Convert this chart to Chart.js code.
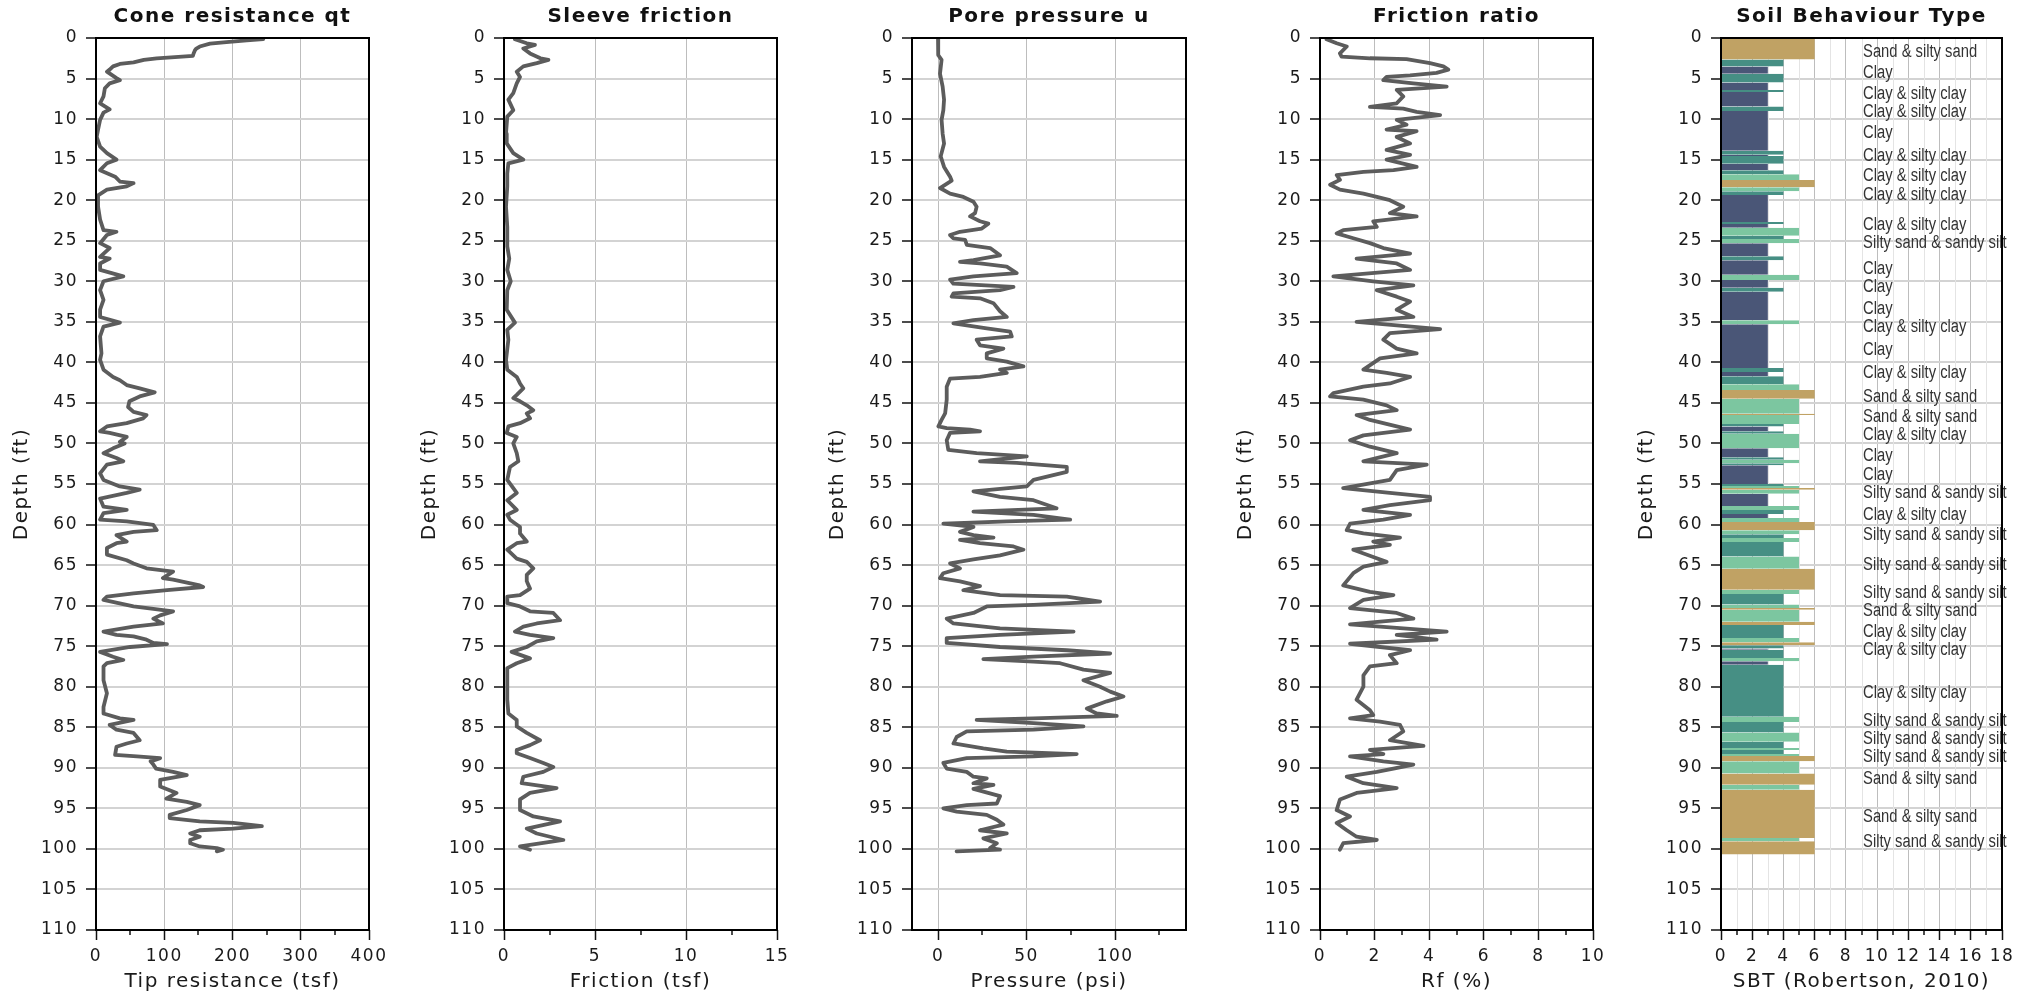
<!DOCTYPE html>
<html>
<head>
<meta charset="utf-8">
<script src="https://cdn.jsdelivr.net/npm/chart.js@4.4.1/dist/chart.umd.min.js"></script>
<style>
  html, body { margin: 0; padding: 0; background: #fff; }
  #wrap { position: relative; width: 2031px; height: 997px; overflow: hidden; }
  #wrap canvas { position: absolute; top: 0; }
</style>
</head>
<body>
<div id="wrap"></div>
<script>
// ---- Cone resistance qt (tsf) ----
const qtDepth = [
  0.15, 0.3, 0.5, 0.7, 1.05, 1.3, 1.5, 1.9, 2.2, 2.5,
  2.7, 3.0, 3.2, 3.5, 3.9, 4.15, 4.95, 5.2, 5.6, 6.2,
  7.2, 8.05, 8.8, 9.2, 10.1, 11.3, 12.2, 13.4, 14.2, 15.0,
  15.45, 16.3, 17.1, 17.7, 17.9, 18.3, 18.7, 19.4, 20.8, 22.4,
  23.7, 23.9, 24.3, 25.3, 25.9, 27.0, 27.2, 27.8, 28.6, 29.4,
  30.0, 31.1, 32.3, 33.5, 34.4, 35.1, 35.6, 36.8, 38.9, 39.7,
  40.9, 41.8, 42.2, 42.8, 43.2, 43.7, 44.2, 44.8, 45.5, 46.1,
  46.5, 46.9, 47.5, 47.9, 48.5, 48.7, 49.2, 49.8, 50.0, 50.6,
  51.2, 51.8, 52.2, 52.6, 53.7, 54.5, 55.3, 55.7, 56.1, 56.8,
  57.8, 58.2, 58.6, 59.4, 59.6, 60.05, 60.7, 60.9, 61.3, 62.1,
  62.3, 62.9, 63.7, 64.4, 64.8, 65.4, 65.8, 66.6, 66.8, 67.5,
  67.7, 68.1, 68.5, 68.9, 69.3, 70.1, 70.7, 71.2, 71.6, 72.2,
  72.6, 73.2, 73.6, 73.8, 74.2, 74.6, 74.75, 75.1, 75.7, 76.3,
  76.7, 77.1, 77.5, 79.2, 80.8, 82.5, 83.3, 83.9, 84.1, 84.7,
  85.3, 85.7, 86.6, 87.0, 87.4, 88.4, 88.6, 88.8, 89.2, 89.6,
  90.1, 90.5, 90.9, 91.5, 92.3, 93.1, 93.8, 94.2, 94.6, 95.2,
  95.8, 96.2, 96.6, 96.8, 97.2, 97.5, 97.7, 98.1, 98.5, 98.9,
  99.3, 99.7, 99.9, 100.1, 100.3
];
const qtValue = [
  245, 221, 191, 167, 152, 147, 145, 143, 142, 89,
  70, 55, 35, 25, 20, 16, 30, 35, 20, 13,
  11, 6, 20, 11, 6, 3, 1, 6, 16, 30,
  16, 6, 28, 35, 55, 45, 16, 3, 3, 6,
  11, 30, 16, 6, 20, 6, 20, 6, 6, 40,
  11, 6, 11, 6, 6, 35, 11, 6, 8, 6,
  11, 25, 35, 45, 64, 86, 64, 49, 47, 55,
  74, 69, 45, 16, 6, 20, 45, 35, 42, 25,
  11, 30, 40, 16, 6, 11, 35, 64, 45, 6,
  11, 45, 11, 6, 45, 84, 89, 55, 30, 45,
  30, 16, 16, 45, 55, 74, 113, 98, 113, 152,
  157, 104, 55, 16, 11, 55, 113, 94, 84, 98,
  55, 11, 30, 55, 74, 84, 104, 50, 6, 25,
  40, 16, 11, 11, 16, 11, 11, 35, 55, 20,
  30, 55, 64, 45, 30, 28, 60, 94, 80, 84,
  88, 113, 133, 94, 94, 118, 103, 133, 152, 133,
  108, 108, 152, 201, 243, 201, 152, 138, 152, 138,
  138, 152, 177, 186, 177
];

// ---- Sleeve friction fs (tsf) ----
const fsDepth = [
  0.15, 0.65, 0.85, 1.3, 1.9, 2.5, 2.7, 3.1, 3.5, 4.15,
  4.8, 5.6, 6.8, 7.6, 8.9, 9.7, 11.8, 13.0, 14.2, 15.0,
  15.45, 16.7, 18.3, 20.8, 23.3, 25.7, 27.2, 28.6, 30.0, 31.1,
  33.5, 35.1, 36.0, 37.2, 39.7, 40.9, 41.8, 42.6, 43.2, 44.0,
  44.4, 44.8, 45.3, 45.9, 46.3, 46.9, 47.5, 47.9, 48.7, 49.2,
  50.0, 51.2, 52.2, 52.9, 54.5, 56.1, 57.0, 58.2, 58.8, 59.4,
  60.3, 61.1, 62.1, 62.3, 63.1, 64.2, 64.6, 65.4, 66.2, 67.0,
  67.9, 68.7, 68.9, 69.7, 70.1, 70.7, 70.9, 71.8, 72.2, 72.6,
  73.2, 73.6, 74.0, 74.4, 75.1, 75.7, 76.5, 77.1, 77.7, 79.2,
  81.6, 83.3, 84.1, 84.9, 85.7, 86.6, 87.2, 87.8, 88.2, 88.8,
  89.4, 89.9, 90.5, 91.1, 91.9, 92.5, 93.1, 93.9, 95.2, 96.0,
  96.6, 97.5, 98.1, 98.9, 99.7, 100.1
];
const fsValue = [
  0.6, 1.25, 1.7, 1.06, 1.43, 2.0, 2.44, 1.8, 1.06, 0.7,
  0.88, 0.7, 0.51, 0.24, 0.51, 0.18, 0.11, 0.15, 0.51, 1.06,
  0.24, 0.18, 0.18, 0.11, 0.18, 0.18, 0.29, 0.18, 0.37, 0.18,
  0.15, 0.6, 0.18, 0.24, 0.11, 0.18, 0.7, 0.88, 1.06, 0.7,
  0.51, 0.88, 1.25, 1.61, 1.25, 1.43, 0.88, 0.24, 0.15, 0.7,
  0.51, 0.7, 0.79, 0.33, 0.18, 0.7, 0.18, 0.7, 0.18, 0.33,
  0.88, 0.88, 1.25, 0.7, 0.18, 0.7, 1.25, 1.61, 1.25, 1.25,
  1.43, 0.88, 0.18, 0.18, 0.88, 1.43, 2.71, 3.08, 1.8, 1.06,
  0.6, 1.43, 2.71, 1.8, 1.25, 0.42, 1.43, 0.7, 0.18, 0.18,
  0.18, 0.24, 0.7, 0.7, 1.25, 1.98, 1.43, 0.7, 0.7, 1.43,
  2.16, 2.71, 2.16, 1.06, 0.97, 2.89, 1.43, 0.88, 0.88, 1.61,
  3.08, 1.25, 1.8, 3.26, 0.88, 1.43
];

// ---- Pore pressure u (psi) ----
const uDepth = [
  0.15, 1.5, 2.1, 2.7, 4.4, 6.0, 7.6, 8.9, 10.1, 11.8,
  13.0, 14.6, 15.9, 17.1, 17.6, 18.5, 19.2, 19.6, 20.2, 20.8,
  21.6, 22.0, 22.6, 22.9, 23.5, 23.9, 24.3, 24.7, 24.9, 25.5,
  25.9, 26.8, 27.4, 27.6, 27.8, 28.2, 29.0, 29.4, 29.8, 30.3,
  30.7, 31.1, 31.5, 31.9, 32.1, 32.7, 33.7, 34.4, 34.8, 35.2,
  35.8, 36.2, 36.8, 37.2, 37.9, 38.3, 38.9, 39.5, 39.9, 40.5,
  40.9, 41.3, 41.8, 42.0, 43.0, 44.6, 46.3, 47.1, 47.9, 48.1,
  48.3, 48.5, 48.7, 49.6, 50.8, 51.2, 51.6, 52.2, 52.4, 52.9,
  53.5, 54.5, 55.3, 55.9, 56.6, 57.0, 58.0, 58.4, 58.8, 59.4,
  59.6, 59.9, 60.3, 60.9, 61.3, 61.6, 61.9, 62.3, 62.7, 63.1,
  63.8, 64.3, 64.8, 65.4, 66.0, 66.6, 67.0, 67.6, 68.1, 68.7,
  68.9, 69.5, 69.9, 70.1, 70.9, 71.6, 72.2, 72.8, 73.2, 73.6,
  74.0, 74.6, 75.1, 75.5, 75.9, 76.3, 76.6, 76.9, 77.1, 77.9,
  78.3, 79.2, 80.0, 80.6, 81.2, 81.8, 82.7, 83.3, 83.6, 83.9,
  84.1, 84.5, 84.9, 85.3, 85.5, 86.2, 87.0, 87.6, 88.0, 88.3,
  88.6, 88.8, 89.4, 90.1, 90.5, 91.1, 91.3, 91.9, 92.1, 92.6,
  93.5, 94.4, 94.6, 95.0, 95.4, 95.8, 96.4, 97.0, 97.7, 98.1,
  98.7, 99.3, 99.9, 100.1, 100.3
];
const uValue = [
  0, 0.2, 0, 2, 1.1, 2.6, 3.4, 3, 2, 2.6,
  3.4, 1.5, 3.4, 6.8, 7.7, 1.1, 6.8, 14.3, 20, 21.8,
  20.9, 18.1, 23.7, 28.4, 24.7, 12.4, 6.8, 8.7, 15.3, 16.2,
  29.4, 35, 20, 12.4, 23.7, 38.8, 44.4, 20, 6.8, 8.7,
  42.6, 35, 8.7, 7.7, 23.7, 31.3, 35, 38.8, 20, 8.7,
  27.5, 40.7, 41.6, 21.8, 23.7, 36.9, 27.5, 27.5, 38.8, 48.2,
  35, 38.8, 23.7, 6.8, 4.9, 4.9, 4, 2, 0.2, 4.9,
  18.1, 23.7, 6.8, 4.9, 5.8, 21.8, 50.1, 23.7, 44.4, 72.7,
  72.7, 53.9, 50.1, 20, 35, 53.9, 66.9, 20, 53.9, 74.6,
  38.8, 3, 20, 12.4, 20, 31.3, 12.4, 23.7, 42.6, 48.2,
  35, 20, 6.8, 12.4, 3, 1.1, 12.4, 23.7, 14.3, 35,
  72.7, 91.5, 53.9, 27.5, 20, 4.9, 8.7, 35, 76.5, 35,
  4.9, 4.9, 35, 72.7, 97.2, 53.9, 25.6, 53.9, 68.9, 82.1,
  97.2, 82.1, 91.5, 97.2, 104.7, 95.3, 84, 89.6, 100.9, 53.9,
  21.8, 53.9, 82.1, 53.9, 16.2, 10.5, 8.7, 25.6, 38.8, 78.3,
  53.9, 16.2, 3, 4.9, 16.2, 20, 27.5, 20, 31.3, 20,
  35, 33.2, 16.2, 3, 10.5, 27.5, 33.2, 36.9, 23.7, 38.8,
  25.6, 33.2, 29.4, 35, 10.5
];

// ---- Friction ratio Rf (%) ----
const rfDepth = [
  0.15, 0.65, 1.05, 1.9, 2.3, 2.5, 2.6, 3.1, 3.5, 3.9,
  4.3, 4.6, 4.8, 5.2, 5.6, 6.0, 6.4, 7.2, 8.05, 8.5,
  8.7, 9.1, 9.5, 10.1, 10.7, 11.3, 11.5, 12.2, 13.0, 13.8,
  14.4, 15.0, 15.9, 16.3, 16.5, 16.9, 17.5, 18.1, 18.7, 19.2,
  19.6, 20.0, 20.8, 21.6, 22.0, 22.6, 23.3, 23.7, 24.1, 24.7,
  25.3, 25.9, 26.6, 27.2, 27.8, 28.6, 29.4, 30.0, 30.5, 31.1,
  31.9, 32.5, 33.5, 34.4, 35.0, 35.9, 36.4, 37.2, 38.3, 38.9,
  39.5, 40.9, 41.3, 41.8, 42.6, 43.0, 43.8, 44.2, 44.6, 45.3,
  45.9, 46.5, 47.1, 47.5, 48.3, 49.0, 49.6, 50.4, 51.2, 52.2,
  52.6, 53.3, 54.5, 55.5, 56.1, 56.6, 57.0, 57.6, 58.2, 58.8,
  59.4, 59.9, 60.7, 61.1, 61.6, 62.1, 62.5, 63.1, 64.0, 64.6,
  65.2, 66.0, 67.5, 68.3, 68.7, 69.3, 70.3, 70.9, 71.6, 72.3,
  73.2, 73.6, 74.2, 74.7, 75.5, 76.1, 77.1, 77.5, 78.6, 80.0,
  81.6, 82.9, 83.5, 83.9, 84.3, 84.7, 85.5, 86.6, 87.3, 87.8,
  88.3, 88.6, 89.2, 89.6, 90.1, 90.5, 91.1, 91.9, 92.5, 93.1,
  93.9, 95.2, 96.0, 96.8, 97.7, 98.5, 98.9, 99.3, 100.1
];
const rfValue = [
  0.24, 0.61, 0.98, 0.73, 0.79, 1.83, 3.17, 4.03, 4.52, 4.7,
  4.27, 3.3, 2.44, 2.32, 3.42, 4.64, 2.81, 3.05, 2.81, 1.83,
  3.05, 3.54, 4.4, 2.81, 3.17, 2.44, 3.54, 2.81, 3.3, 2.44,
  3.3, 2.44, 3.54, 2.69, 1.59, 0.61, 0.73, 0.37, 0.73, 1.59,
  2.08, 2.56, 3.05, 2.56, 3.54, 1.95, 2.08, 0.85, 0.61, 1.22,
  1.83, 2.32, 3.3, 1.34, 2.81, 3.3, 0.49, 1.95, 3.42, 2.08,
  2.81, 3.3, 2.81, 3.42, 1.34, 4.4, 2.56, 2.32, 2.81, 3.54,
  2.2, 1.59, 2.44, 3.3, 2.56, 1.59, 0.49, 0.37, 1.59, 2.44,
  2.81, 1.34, 1.83, 2.32, 3.3, 1.59, 1.1, 1.83, 2.81, 1.59,
  3.91, 2.81, 2.56, 0.85, 2.56, 4.03, 4.03, 2.56, 1.59, 3.3,
  2.32, 1.1, 0.98, 1.59, 2.93, 1.95, 2.56, 1.22, 1.95, 2.44,
  1.59, 1.22, 0.85, 1.83, 2.69, 1.59, 1.1, 2.81, 3.42, 1.1,
  4.64, 2.81, 4.27, 1.1, 3.3, 2.56, 2.81, 1.83, 1.59, 1.59,
  1.34, 1.83, 1.95, 1.1, 2.2, 2.93, 3.05, 2.56, 3.79, 1.83,
  2.32, 1.1, 2.32, 3.42, 2.69, 2.08, 0.98, 1.59, 2.81, 1.34,
  0.73, 0.61, 1.1, 0.61, 0.98, 1.34, 2.08, 0.85, 0.73
];

// ---- Soil behaviour type layers (boundaries in ft, zone per layer) ----
const sbtBounds = [
  0, 2.65, 3.5, 4.4, 5.5, 6.4, 6.65, 8.45, 9.0, 13.9,
  14.4, 14.55, 15.5, 16.3, 16.8, 17.5, 18.4, 18.9, 19.35, 22.7,
  22.95, 23.4, 24.4, 24.8, 25.3, 26.9, 27.4, 29.2, 29.85, 30.8,
  31.3, 34.8, 35.3, 40.7, 41.2, 41.7, 42.7, 43.4, 44.5, 46.35,
  46.5, 47.6, 47.9, 48.5, 48.8, 50.6, 51.7, 52.0, 52.45, 52.7,
  55.0, 55.25, 55.5, 55.7, 56.2, 57.7, 58.2, 58.7, 59.2, 59.7,
  60.7, 61.2, 61.65, 62.15, 63.95, 65.45, 68.05, 68.55, 69.85, 70.3,
  70.5, 72.0, 72.4, 74.0, 74.5, 74.9, 75.3, 75.45, 76.45, 76.85,
  77.3, 83.7, 84.35, 85.65, 86.8, 87.55, 87.8, 88.3, 88.55, 89.2,
  90.7, 92.1, 92.7, 98.65, 99.05, 100.7
];
const sbtZone = [
  6, 4, 3, 4, 3, 4, 3, 4, 3, 4,
  3, 4, 3, 4, 5, 6, 5, 4, 3, 4,
  3, 5, 4, 5, 3, 4, 3, 5, 3, 4,
  3, 5, 3, 4, 3, 4, 5, 6, 5, 6,
  5, 4, 3, 4, 5, 3, 4, 5, 4, 3,
  4, 5, 6, 5, 3, 5, 4, 3, 5, 6,
  5, 4, 5, 4, 5, 6, 5, 4, 5, 6,
  5, 6, 4, 5, 6, 4, 3, 4, 5, 3,
  4, 5, 4, 5, 4, 5, 4, 5, 6, 5,
  6, 5, 6, 5, 6
];
const sbtLabelDepth = [
  1.7, 4.35, 6.9, 9.1, 11.75, 14.5, 17.0, 19.4, 23.1, 25.3,
  28.5, 30.7, 33.4, 35.7, 38.5, 41.3, 44.3, 46.7, 48.95, 51.5,
  53.9, 56.1, 58.8, 61.3, 65.0, 68.4, 70.65, 73.2, 75.5, 80.8,
  84.2, 86.5, 88.7, 91.4, 96.1, 99.1
];
const sbtLabelText = [
  'Sand & silty sand', 'Clay', 'Clay & silty clay', 'Clay & silty clay', 'Clay',
  'Clay & silty clay', 'Clay & silty clay', 'Clay & silty clay', 'Clay & silty clay', 'Silty sand & sandy silt',
  'Clay', 'Clay', 'Clay', 'Clay & silty clay', 'Clay',
  'Clay & silty clay', 'Sand & silty sand', 'Sand & silty sand', 'Clay & silty clay', 'Clay',
  'Clay', 'Silty sand & sandy silt', 'Clay & silty clay', 'Silty sand & sandy silt', 'Silty sand & sandy silt',
  'Silty sand & sandy silt', 'Sand & silty sand', 'Clay & silty clay', 'Clay & silty clay', 'Clay & silty clay',
  'Silty sand & sandy silt', 'Silty sand & sandy silt', 'Silty sand & sandy silt', 'Sand & silty sand', 'Sand & silty sand',
  'Silty sand & sandy silt'
];

const zoneColors = { 3: '#4a5677', 4: '#468f84', 5: '#7cc6a0', 6: '#c0a264' };

const FONT = '"DejaVu Sans", Verdana, sans-serif';
Chart.defaults.font.family = FONT;
Chart.defaults.color = '#1a1a1a';

const PLOT_TOP = 38;
const PLOT_BOTTOM = 930;
const AXIS_W = 96;
const PAD_R = 29;
const H = 997;
const wrap = document.getElementById('wrap');

function minorValues(scale, major, minor) {
    const out = [];
    for (let v = Math.ceil(scale.min / minor) * minor; v <= scale.max + 1e-9; v += minor) {
        const r = v / major;
        if (Math.abs(r - Math.round(r)) > 1e-6) out.push(v);
    }
    return out;
}

const panelPlugin = {
    id: 'panel',
    beforeUpdate(chart) { chart.ctx.letterSpacing = '1.5px'; },
    beforeDraw(chart) { chart.ctx.letterSpacing = '1.5px'; },
    beforeDatasetsDraw(chart, args, opts) {
        if (!opts.minorGrid) return;
        const { ctx, chartArea: a, scales: { x } } = chart;
        ctx.save();
        ctx.strokeStyle = '#e4e4e4';
        ctx.lineWidth = 1;
        minorValues(x, opts.major, opts.minor).forEach(v => {
            const px = Math.round(x.getPixelForValue(v)) + 0.5;
            ctx.beginPath();
            ctx.moveTo(px, a.top);
            ctx.lineTo(px, a.bottom);
            ctx.stroke();
        });
        ctx.restore();
    },
    afterDatasetsDraw(chart, args, opts) {
        if (!opts.labels) return;
        const { ctx, scales: { x, y } } = chart;
        ctx.save();
        ctx.letterSpacing = '0px';
        ctx.fillStyle = '#333';
        ctx.font = '18px "Liberation Sans", Arial, sans-serif';
        ctx.textAlign = 'left';
        ctx.textBaseline = 'middle';
        const px = x.getPixelForValue(opts.labelX);
        opts.labels.depth.forEach((d, i) => {
            ctx.save();
            ctx.translate(px, y.getPixelForValue(d));
            ctx.scale(0.82, 1);
            ctx.fillText(opts.labels.text[i], 0, 0);
            ctx.restore();
        });
        ctx.restore();
    },
    afterDraw(chart, args, opts) {
        const { ctx, chartArea: a, scales: { x } } = chart;
        ctx.save();
        ctx.strokeStyle = '#111';
        ctx.lineWidth = 1.5;
        minorValues(x, opts.major, opts.minor).forEach(v => {
            const px = Math.round(x.getPixelForValue(v));
            ctx.beginPath();
            ctx.moveTo(px, a.bottom);
            ctx.lineTo(px, a.bottom + 5);
            ctx.stroke();
        });
        ctx.lineWidth = 2;
        ctx.strokeStyle = '#000';
        ctx.strokeRect(a.left, a.top, a.right - a.left, a.bottom - a.top);
        ctx.font = 'bold 20px ' + FONT;
        ctx.fillStyle = '#111';
        ctx.textAlign = 'center';
        ctx.textBaseline = 'middle';
        ctx.fillText(opts.title, (a.left + a.right) / 2, 17);
        ctx.restore();
    }
};

function toPoints(depths, values) {
    return depths.map((d, i) => ({ x: values[i], y: d }));
}

function makePanel(p) {
    const canvas = document.createElement('canvas');
    const width = p.plotRight - p.plotLeft + AXIS_W + PAD_R;
    canvas.width = width;
    canvas.height = H;
    canvas.style.left = (p.plotLeft - AXIS_W) + 'px';
    canvas.style.width = width + 'px';
    canvas.style.height = H + 'px';
    wrap.appendChild(canvas);

    return new Chart(canvas, {
        type: p.type,
        data: { datasets: p.datasets },
        plugins: [panelPlugin],
        options: {
            responsive: false,
            animation: false,
            devicePixelRatio: 1,
            events: [],
            indexAxis: p.indexAxis || 'x',
            layout: { padding: { top: PLOT_TOP, right: PAD_R, left: 0, bottom: 0 } },
            plugins: {
                legend: { display: false },
                tooltip: { enabled: false },
                panel: {
                    title: p.title,
                    major: p.step,
                    minor: p.minor,
                    minorGrid: !!p.minorGrid,
                    labels: p.labels || null,
                    labelX: p.labelX
                }
            },
            scales: {
                x: {
                    type: 'linear',
                    position: 'bottom',
                    min: p.min,
                    max: p.max,
                    afterFit: s => { s.height = H - PLOT_BOTTOM; },
                    ticks: {
                        stepSize: p.step,
                        includeBounds: false,
                        autoSkip: false,
                        maxRotation: 0,
                        padding: 6,
                        font: { size: 17 },
                        color: '#1a1a1a'
                    },
                    grid: { color: '#bdbdbd', lineWidth: 1, tickLength: 10, tickColor: '#111', tickWidth: 1.5 },
                    border: { display: false },
                    title: { display: true, text: p.xTitle, font: { size: 20 }, padding: { top: 0, bottom: 3 }, color: '#1a1a1a' }
                },
                y: {
                    type: 'linear',
                    reverse: true,
                    min: 0,
                    max: 110,
                    afterFit: s => { s.width = AXIS_W; },
                    ticks: { stepSize: 5, autoSkip: false, padding: 8, font: { size: 17 }, color: '#1a1a1a' },
                    grid: { color: '#d3d3d3', lineWidth: 2, tickLength: 10, tickColor: '#111', tickWidth: 1.5 },
                    border: { display: false },
                    title: { display: true, text: 'Depth (ft)', font: { size: 20 }, padding: { top: 10, bottom: 0 }, color: '#1a1a1a' }
                }
            }
        }
    });
}

function profile(depths, values) {
    return [{
        data: toPoints(depths, values),
        showLine: true,
        borderColor: '#5c5c5c',
        borderWidth: 3.8,
        pointRadius: 0,
        borderJoinStyle: 'round',
        borderCapStyle: 'round',
        fill: false
    }];
}

makePanel({ type: 'scatter', title: 'Cone resistance qt', xTitle: 'Tip resistance (tsf)',
    min: 0, max: 400, step: 100, minor: 50, plotLeft: 96, plotRight: 369,
    datasets: profile(qtDepth, qtValue) });

makePanel({ type: 'scatter', title: 'Sleeve friction', xTitle: 'Friction (tsf)',
    min: 0, max: 15, step: 5, minor: 2.5, plotLeft: 504, plotRight: 777,
    datasets: profile(fsDepth, fsValue) });

makePanel({ type: 'scatter', title: 'Pore pressure u', xTitle: 'Pressure (psi)',
    min: -14.7, max: 140, step: 50, minor: 25, plotLeft: 912, plotRight: 1186,
    datasets: profile(uDepth, uValue) });

makePanel({ type: 'scatter', title: 'Friction ratio', xTitle: 'Rf (%)',
    min: 0, max: 10, step: 2, minor: 1, plotLeft: 1320, plotRight: 1593,
    datasets: profile(rfDepth, rfValue) });

// SBT column: each layer is a two-point vertical line filled back to SBT = 0
const sbtDatasets = sbtZone.map((z, i) => ({
    data: [{ x: z, y: sbtBounds[i] }, { x: z, y: sbtBounds[i + 1] }],
    fill: 'origin',
    backgroundColor: zoneColors[z],
    borderWidth: 0,
    pointRadius: 0
}));

makePanel({ type: 'line', indexAxis: 'y', title: 'Soil Behaviour Type', xTitle: 'SBT (Robertson, 2010)',
    min: 0, max: 18, step: 2, minor: 1, minorGrid: true, plotLeft: 1721, plotRight: 2002,
    datasets: sbtDatasets, labelX: 9.1,
    labels: { depth: sbtLabelDepth, text: sbtLabelText } });
</script>
</body>
</html>
